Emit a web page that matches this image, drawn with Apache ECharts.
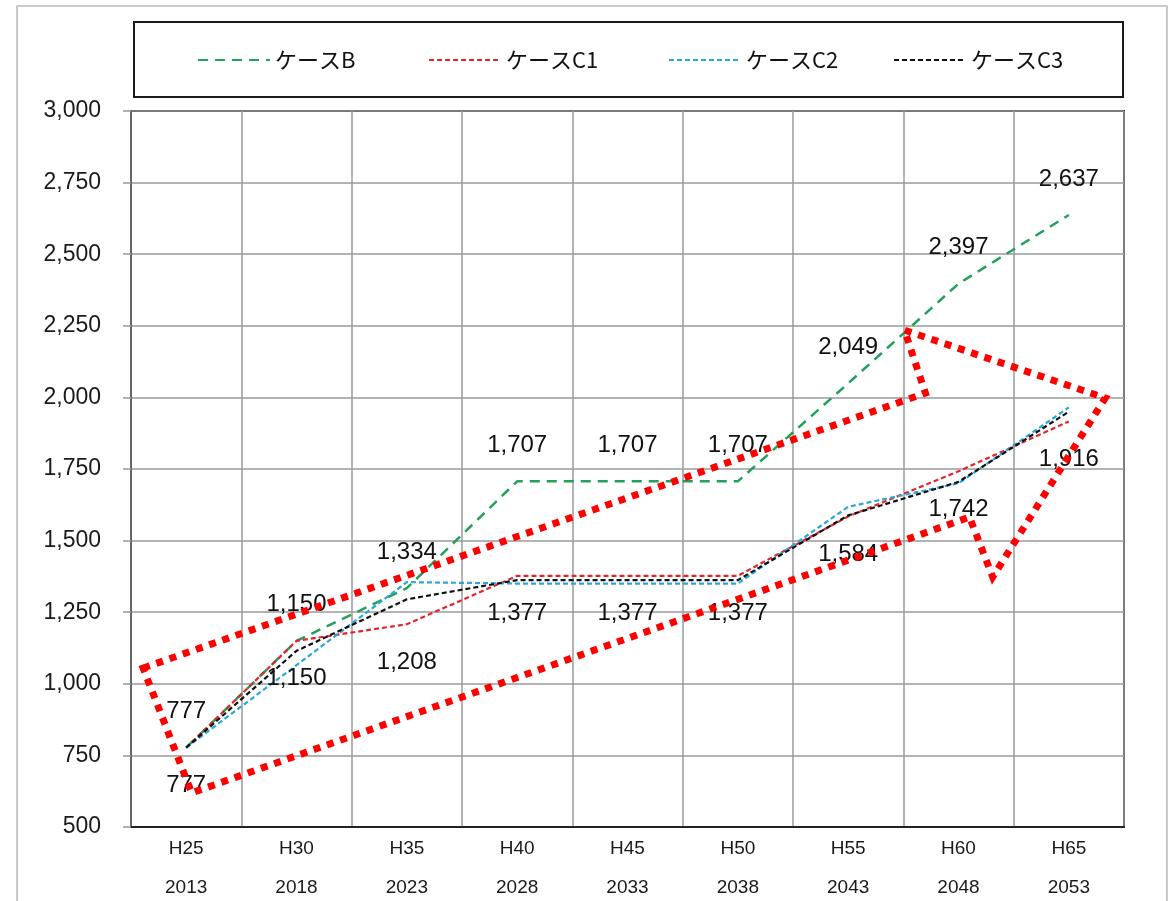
<!DOCTYPE html>
<html>
<head>
<meta charset="utf-8">
<title>ケース別推移</title>
<script src="https://cdn.jsdelivr.net/npm/echarts@6/dist/echarts.min.js"></script>
<style>
  html, body { margin: 0; padding: 0; background: #ffffff; }
  #chart { width: 1173px; height: 901px; }
</style>
</head>
<body>
<div id="chart"></div>
<script>
// Period labels (Heisei year / western year)
const categories = ['H25', 'H30', 'H35', 'H40', 'H45', 'H50', 'H55', 'H60', 'H65'];
const years = ['2013', '2018', '2023', '2028', '2033', '2038', '2043', '2048', '2053'];

// Series values
const caseB  = [777, 1150, 1334, 1707, 1707, 1707, 2049, 2397, 2637];
const caseC1 = [777, 1150, 1208, 1377, 1377, 1377, 1584, 1742, 1916];
const caseC2 = [777, 1065, 1355, 1350, 1350, 1350, 1618, 1700, 1965];
const caseC3 = [777, 1115, 1295, 1362, 1362, 1362, 1588, 1705, 1950];

// Value axis range
const yMin = 500, yMax = 3000, yStep = 250;

// Annotation outline (arrow) in [category position, value]
const arrowOutline = [
  [-0.39, 1055], [6.70, 2015], [6.51, 2235], [8.33, 1998],
  [7.31, 1373], [7.10, 1582], [0.05, 619]
];

const NUM_FONT = '"Liberation Sans", Arial, sans-serif';
const JP_FONT = '"Noto Sans CJK JP", "Liberation Sans", sans-serif';

const fmt = v => Number(v).toLocaleString('en-US');

const chart = echarts.init(document.getElementById('chart'), null, { renderer: 'canvas' });

function legendAt(name, left) {
  return {
    data: [name],
    left: left,
    top: 49,
    padding: 0,
    itemWidth: 72,
    itemHeight: 14,
    itemGap: 6,
    selectedMode: false,
    itemStyle: { color: 'rgba(0,0,0,0)', borderWidth: 0 },
    textStyle: { fontFamily: JP_FONT, fontSize: 22, color: '#111' }
  };
}

function lineSeries(name, data, color, dash, width, label) {
  return {
    name: name,
    type: 'line',
    data: data,
    symbol: 'circle',
    symbolSize: 0,
    showSymbol: true,
    smooth: false,
    lineStyle: { color: color, width: width, type: dash },
    itemStyle: { color: color },
    label: label,
    emphasis: { disabled: true },
    animation: false
  };
}

const option = {
  backgroundColor: '#ffffff',
  animation: false,
  legend: [
    legendAt('ケースB', 197),
    legendAt('ケースC1', 428),
    legendAt('ケースC2', 668),
    legendAt('ケースC3', 893)
  ],
  grid: {
    left: 131, top: 111, width: 993, height: 716,
    outerBoundsMode: 'none',
    containLabel: false,
    show: true, borderColor: '#222', borderWidth: 2, backgroundColor: 'transparent'
  },
  xAxis: {
    type: 'category',
    data: categories,
    boundaryGap: true,
    axisLine: { lineStyle: { color: '#222', width: 2 } },
    axisTick: { show: false },
    splitLine: { show: true, lineStyle: { color: '#9a9a9a', width: 1.5 } },
    axisLabel: {
      margin: 2,
      interval: 0,
      fontFamily: NUM_FONT,
      fontSize: 19,
      lineHeight: 39,
      color: '#1a1a1a',
      formatter: (v, i) => v + '\n' + years[i]
    }
  },
  yAxis: {
    type: 'value',
    min: yMin, max: yMax, interval: yStep,
    axisLine: { show: true, lineStyle: { color: '#666', width: 2 } },
    axisTick: { show: true, length: 8, lineStyle: { color: '#999', width: 1.5 } },
    splitLine: { show: true, lineStyle: { color: '#9a9a9a', width: 1.5 } },
    axisLabel: {
      margin: 30,
      fontFamily: NUM_FONT,
      fontSize: 23,
      color: '#1a1a1a',
      formatter: v => fmt(v)
    }
  },
  series: [
    lineSeries('ケースB', caseB, '#22a15c', [10, 7], 2.5, {
      show: true, position: 'top', distance: 24,
      fontFamily: NUM_FONT, fontSize: 24, color: '#111',
      formatter: p => fmt(p.value)
    }),
    lineSeries('ケースC1', caseC1, '#e3262e', [5, 3], 2.2, {
      show: true, position: 'bottom', distance: 26,
      fontFamily: NUM_FONT, fontSize: 24, color: '#111',
      formatter: p => fmt(p.value)
    }),
    lineSeries('ケースC2', caseC2, '#27a8dc', [5, 3], 2.2, { show: false }),
    lineSeries('ケースC3', caseC3, '#111111', [5, 3], 2.2, { show: false })
  ]
};

chart.setOption(option);

// Frame, legend box and the dotted arrow annotation
function drawOverlay() {
  const p0 = chart.convertToPixel({ xAxisIndex: 0, yAxisIndex: 0 }, [0, yMin]);
  const pN = chart.convertToPixel({ xAxisIndex: 0, yAxisIndex: 0 }, [categories.length - 1, yMin]);
  const xAt = i => p0[0] + (pN[0] - p0[0]) * i / (categories.length - 1);
  const yAt = v => chart.convertToPixel({ yAxisIndex: 0 }, v);
  const pts = arrowOutline.map(([i, v]) => [xAt(i), yAt(v)]);

  chart.setOption({
    graphic: [
      {
        type: 'rect', silent: true, z: 0,
        shape: { x: 17, y: 6, width: 1150, height: 910 },
        style: { fill: 'none', stroke: '#b9b9b9', lineWidth: 1.5 }
      },
      {
        type: 'rect', silent: true, z: 1,
        shape: { x: 134, y: 22, width: 989, height: 75 },
        style: { fill: 'none', stroke: '#1a1a1a', lineWidth: 2 }
      },
      {
        type: 'polygon', silent: true, z: 100,
        shape: { points: pts },
        style: { fill: 'none', stroke: '#ff0000', lineWidth: 7, lineDash: [7, 7], lineCap: 'butt', lineJoin: 'miter' }
      }
    ]
  });
}
drawOverlay();
</script>
</body>
</html>
